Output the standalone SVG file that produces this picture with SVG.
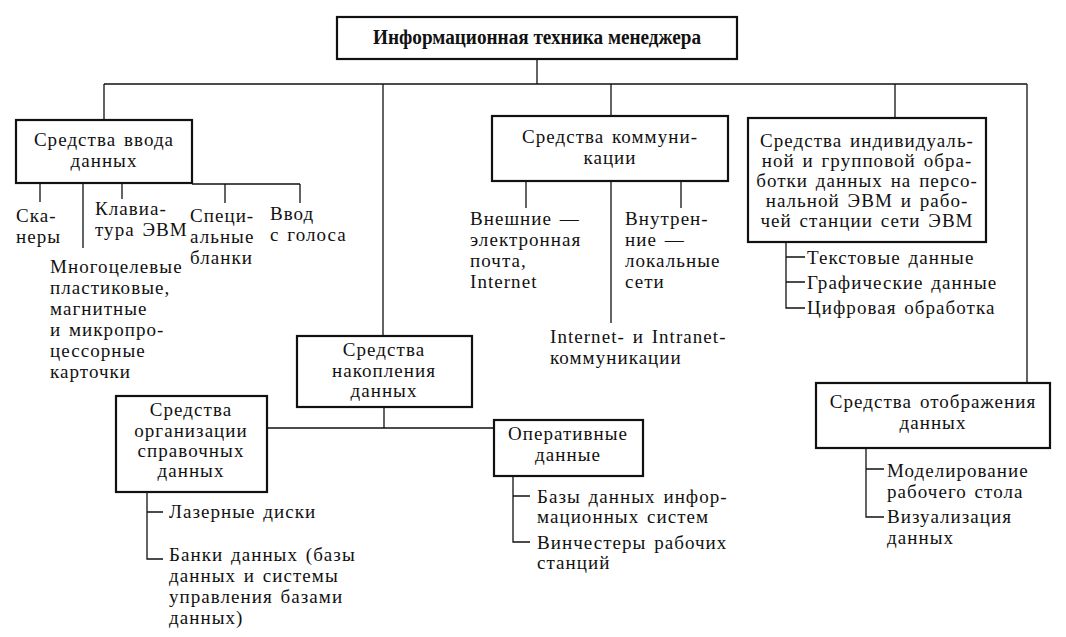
<svg xmlns="http://www.w3.org/2000/svg" width="1066" height="637" viewBox="0 0 1066 637">
<style>
.box{fill:#fff;stroke:#111;stroke-width:2.2}
.ln{fill:none;stroke:#111;stroke-width:1.3}
text{font-family:"Liberation Serif","DejaVu Serif",serif;font-size:19px;fill:#111;letter-spacing:1.05px;word-spacing:2px}
.c{text-anchor:middle}
.t{font-weight:bold;font-size:20px;letter-spacing:0;word-spacing:0}
</style>
<rect width="1066" height="637" fill="#fff"/>
<g id="connectors">
<path class="ln" d="M537,59V84M104,84H1027M104,84V120M383,84V336M611,84V117M895,84V118M1027,84V383"/>
<path class="ln" d="M192,184H300M40,183V202M83,183V248M122,183V199M225,184V203M300,184V203"/>
<path class="ln" d="M526,181V208M611,181V323M681,181V208"/>
<path class="ln" d="M786,242V308H805M786,257H805M786,282H805"/>
<path class="ln" d="M384,407V428M267,428H494"/>
<path class="ln" d="M147,492V559H163M147,512H163"/>
<path class="ln" d="M513,476V542H530M513,496H530"/>
<path class="ln" d="M866,448V517H884M866,469H884"/>
</g>
<g id="root">
<rect class="box" x="337" y="17" width="400" height="42"/>
<text class="t" x="373" y="44" textLength="328" lengthAdjust="spacingAndGlyphs">Информационная техника менеджера</text>
</g>
<g id="input">
<rect class="box" x="16" y="120" width="176" height="63"/>
<text class="c" x="104" y="146">Средства ввода</text>
<text class="c" x="104" y="167">данных</text>
</g>
<g id="input-items">
<text x="16" y="222">Ска-</text><text x="16" y="243">неры</text>
<text x="95" y="215">Клавиа-</text><text x="95" y="236">тура  ЭВМ</text>
<text x="190" y="222">Специ-</text><text x="190" y="243">альные</text><text x="190" y="264">бланки</text>
<text x="270" y="220">Ввод</text><text x="270" y="241">с голоса</text>
<text x="50" y="273">Многоцелевые</text>
<text x="50" y="294">пластиковые,</text>
<text x="50" y="315">магнитные</text>
<text x="50" y="336">и микропро-</text>
<text x="50" y="357">цессорные</text>
<text x="50" y="378">карточки</text>
</g>
<g id="comm">
<rect class="box" x="492" y="116" width="236" height="65"/>
<text class="c" x="610" y="143">Средства коммуни-</text>
<text class="c" x="610" y="164">кации</text>
</g>
<g id="comm-items">
<text x="470" y="225">Внешние —</text><text x="470" y="246">электронная</text><text x="470" y="267">почта,</text><text x="470" y="288">Internet</text>
<text x="625" y="225">Внутрен-</text><text x="625" y="246">ние —</text><text x="625" y="267">локальные</text><text x="625" y="288">сети</text>
<text x="550" y="343">Internet- и Intranet-</text><text x="550" y="364">коммуникации</text>
</g>
<g id="proc">
<rect class="box" x="748" y="118" width="238" height="124"/>
<text class="c" x="867" y="147">Средства индивидуаль-</text>
<text class="c" x="867" y="167">ной и групповой обра-</text>
<text class="c" x="867" y="187">ботки данных на персо-</text>
<text class="c" x="867" y="207">нальной ЭВМ и рабо-</text>
<text class="c" x="867" y="227">чей станции сети ЭВМ</text>
</g>
<g id="proc-items">
<text x="807" y="264">Текстовые данные</text>
<text x="807" y="289">Графические данные</text>
<text x="807" y="314">Цифровая обработка</text>
</g>
<g id="storage">
<rect class="box" x="297" y="336" width="175" height="71"/>
<text class="c" x="384" y="356">Средства</text>
<text class="c" x="384" y="377">накопления</text>
<text class="c" x="384" y="397">данных</text>
</g>
<g id="reference">
<rect class="box" x="116" y="396" width="151" height="96"/>
<text class="c" x="191" y="416">Средства</text>
<text class="c" x="191" y="437">организации</text>
<text class="c" x="191" y="457">справочных</text>
<text class="c" x="191" y="477">данных</text>
</g>
<g id="reference-items">
<text x="169" y="518">Лазерные диски</text>
<text x="169" y="561">Банки данных (базы</text>
<text x="169" y="582">данных и системы</text>
<text x="169" y="603">управления базами</text>
<text x="169" y="624">данных)</text>
</g>
<g id="operative">
<rect class="box" x="494" y="420" width="149" height="56"/>
<text class="c" x="568" y="440">Оперативные</text>
<text class="c" x="568" y="461">данные</text>
</g>
<g id="operative-items">
<text x="537" y="503">Базы данных инфор-</text>
<text x="537" y="523">мационных систем</text>
<text x="537" y="549">Винчестеры рабочих</text>
<text x="537" y="569">станций</text>
</g>
<g id="display">
<rect class="box" x="816" y="383" width="234" height="65"/>
<text class="c" x="933" y="408">Средства отображения</text>
<text class="c" x="933" y="429">данных</text>
</g>
<g id="display-items">
<text x="887" y="477">Моделирование</text>
<text x="887" y="498">рабочего стола</text>
<text x="887" y="523">Визуализация</text>
<text x="887" y="544">данных</text>
</g>
</svg>
